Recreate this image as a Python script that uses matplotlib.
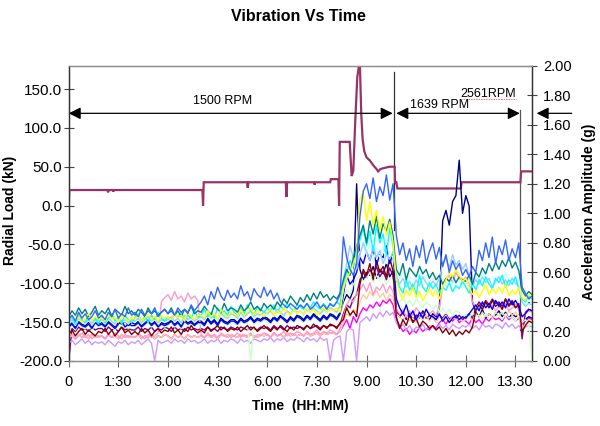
import numpy as np
import matplotlib
matplotlib.use("Agg")
import matplotlib.pyplot as plt

plt.rcParams['font.family'] = ['Liberation Sans', 'DejaVu Sans']

# ---------------- data ----------------
# time axis of the vibration records, hours (one reading every 6 min)
time_h = np.round(np.arange(0, 141) * 0.1, 1)

# acceleration amplitude (g) per sensor channel
teal = [.30,.34,.31,.36,.32,.35,.30,.33,.37,.31,
        .34,.32,.36,.30,.35,.33,.31,.37,.32,.34,
        .31,.35,.33,.30,.36,.32,.34,.31,.33,.35,
        .32,.36,.31,.34,.30,.35,.33,.37,.32,.34,
        .33,.37,.34,.31,.38,.35,.33,.39,.34,.36,
        .35,.33,.38,.34,.36,.40,.35,.37,.34,.39,
        .36,.38,.35,.40,.37,.42,.39,.44,.41,.38,
        .43,.40,.45,.41,.46,.42,.47,.43,.45,.41,
        .44,.42,.46,.55,.62,.58,.70,.78,.85,.92,
        .80,.95,.86,.98,.83,.93,.88,.96,.85,.62,
        .58,.66,.55,.63,.60,.57,.64,.59,.62,.56,
        .60,.55,.58,.52,.56,.54,.58,.53,.57,.55,
        .54,.58,.52,.60,.57,.63,.59,.66,.61,.67,
        .62,.68,.64,.70,.63,.67,.61,.48,.44,.47,
        .45]
cyan = [.27,.30,.25,.31,.28,.26,.32,.27,.29,.25,
        .30,.26,.29,.32,.27,.30,.25,.31,.28,.26,
        .29,.32,.27,.30,.26,.31,.28,.33,.29,.27,
        .30,.28,.32,.29,.33,.27,.31,.29,.34,.30,
        .31,.35,.30,.33,.29,.36,.32,.34,.31,.37,
        .33,.30,.36,.32,.38,.34,.31,.37,.35,.33,
        .36,.34,.38,.33,.37,.35,.39,.36,.34,.38,
        .37,.35,.39,.36,.40,.37,.35,.39,.36,.38,
        .37,.40,.38,.52,.60,.68,.64,.75,.82,.90,
        .78,.88,.74,.92,.80,.86,.72,.90,.78,.55,
        .50,.46,.55,.48,.52,.45,.58,.50,.47,.53,
        .49,.52,.46,.50,.48,.53,.47,.51,.49,.54,
        .50,.46,.53,.48,.55,.51,.57,.52,.49,.56,
        .53,.58,.50,.55,.52,.57,.49,.42,.40,.44,
        .42]
royal = [.28,.31,.27,.33,.29,.32,.28,.30,.34,.29,
         .31,.28,.33,.30,.35,.29,.32,.30,.36,.31,
         .33,.30,.35,.31,.34,.32,.36,.30,.33,.35,
         .32,.34,.31,.36,.33,.35,.32,.38,.34,.37,
         .40,.44,.38,.47,.42,.50,.44,.41,.48,.43,
         .46,.42,.51,.44,.47,.41,.49,.45,.43,.50,
         .44,.48,.42,.46,.40,.38,.36,.39,.37,.35,
         .38,.36,.39,.35,.37,.40,.36,.38,.35,.39,
         .37,.40,.45,.84,.70,.62,.58,.66,.98,1.15,
         1.20,1.10,1.24,1.08,1.18,1.12,1.26,1.09,1.20,.85,
         .72,.80,.68,.76,.64,.78,.70,.82,.66,.74,
         .80,.69,.77,.64,.72,.60,.68,.62,.66,.58,
         .62,.57,.64,.60,.75,.68,.80,.70,.84,.66,
         .78,.72,.82,.68,.76,.70,.80,.50,.46,.42,
         .44]
light_cyan = [.25,.27,.24,.28,.26,.25,.29,.24,.27,.26,
              .27,.25,.28,.26,.24,.28,.26,.27,.25,.29,
              .26,.28,.25,.27,.29,.26,.28,.25,.27,.28,
              .27,.29,.26,.28,.25,.30,.27,.29,.26,.28,
              .29,.27,.31,.28,.30,.27,.32,.29,.28,.31,
              .30,.28,.32,.29,.31,.33,.29,.31,.30,.32,
              .31,.33,.30,.34,.32,.30,.33,.31,.34,.32,
              .33,.31,.34,.32,.35,.33,.31,.34,.32,.35,
              .34,.32,.36,.48,.58,.64,.60,.70,.74,.78,
              .72,.80,.68,.76,.70,.78,.66,.74,.70,.60,
              .56,.60,.54,.58,.52,.57,.61,.55,.58,.53,
              .56,.52,.58,.54,.50,.55,.52,.57,.53,.50,
              .52,.55,.50,.58,.54,.60,.56,.52,.57,.54,
              .58,.55,.60,.53,.57,.52,.55,.40,.38,.41,
              .39]
sky = [.26,.28,.25,.29,.27,.26,.28,.25,.29,.27,
       .28,.26,.29,.27,.25,.28,.27,.29,.26,.28,
       .27,.29,.26,.28,.30,.27,.29,.26,.28,.27,
       .28,.30,.27,.29,.26,.31,.28,.30,.27,.29,
       .30,.28,.32,.29,.31,.28,.33,.30,.29,.32,
       .31,.29,.33,.30,.32,.34,.30,.32,.31,.33,
       .32,.34,.31,.35,.33,.31,.34,.32,.35,.33,
       .34,.32,.35,.33,.36,.34,.32,.35,.33,.36,
       .35,.33,.38,.55,.66,.78,.70,.62,.72,.80,
       .74,.68,.78,.70,.75,.66,.72,.69,.74,.58,
       .52,.56,.50,.54,.49,.55,.51,.57,.53,.50,
       .54,.51,.56,.66,.70,.63,.72,.65,.68,.62,
       .66,.58,.50,.55,.52,.57,.53,.56,.50,.54,
       .57,.52,.55,.51,.56,.53,.50,.40,.37,.39,
       .38]
yellow = [.28,.31,.27,.30,.26,.29,.32,.27,.30,.28,
          .29,.27,.32,.28,.30,.26,.31,.29,.27,.30,
          .28,.31,.27,.29,.32,.28,.30,.27,.31,.29,
          .30,.28,.32,.29,.31,.27,.33,.30,.28,.31,
          .31,.29,.34,.30,.32,.28,.35,.31,.30,.33,
          .32,.30,.35,.31,.33,.36,.31,.34,.32,.30,
          .33,.35,.31,.34,.32,.36,.33,.31,.35,.32,
          .34,.32,.36,.33,.35,.31,.34,.36,.33,.35,
          .34,.36,.33,.50,.56,.60,.66,.72,1.10,1.14,
          .95,1.08,.92,1.02,.88,.98,.85,.94,.80,.55,
          .46,.42,.48,.44,.50,.43,.47,.41,.45,.49,
          .44,.48,.42,.50,.55,.60,.57,.62,.58,.54,
          .56,.50,.45,.48,.43,.47,.52,.45,.49,.46,
          .50,.46,.52,.44,.48,.45,.50,.43,.41,.45,
          .44]
light_green = [.22,.24,.21,.25,.23,.22,.25,.21,.24,.23,
               .24,.22,.25,.23,.21,.24,.23,.25,.22,.24,
               .23,.25,.22,.24,.26,.23,.25,.22,.24,.23,
               .24,.26,.23,.25,.22,.26,.24,.25,.23,.25,
               .25,.23,.27,.24,.26,.23,.27,.25,.24,.26,
               .26,.24,.27,.25,.26,0.0,.25,.27,.26,.28,
               .27,.25,.28,.26,.29,.27,.25,.28,.26,.29,
               .28,.26,.29,.27,.30,.28,.26,.29,.27,.30,
               .29,.27,.31,.42,.48,.45,.52,.55,.58,.54,
               .56,.60,.53,.58,.55,.57,.52,.56,.54,.42,
               .40,.43,.38,.41,.37,.42,.39,.36,.40,.38,
               .35,.38,.33,.36,.32,.35,.31,.34,.33,.30,
               .32,.29,.33,.30,.31,.28,.32,.29,.31,.30,
               .31,.28,.32,.29,.30,.27,.31,.26,.28,.25,
               0.0]
blue = [.23,.25,.22,.26,.24,.23,.25,.22,.26,.24,
        .25,.23,.26,.24,.22,.25,.27,.23,.25,.24,
        .24,.26,.23,.25,.27,.24,.26,.23,.25,.24,
        .25,.27,.24,.26,.23,.27,.25,.26,.24,.26,
        .26,.24,.28,.25,.27,.24,.28,.26,.25,.27,
        .27,.25,.28,.26,.27,.29,.26,.28,.27,.29,
        .28,.26,.29,.27,.30,.28,.26,.29,.27,.30,
        .29,.27,.30,.28,.31,.29,.27,.30,.28,.31,
        .30,.28,.32,.45,.58,.52,.55,.60,.70,.66,
        .74,.68,.76,.65,.72,.70,.78,.66,.73,.42,
        .36,.32,.38,.30,.34,.28,.33,.29,.35,.31,
        .30,.28,.32,.27,.30,.26,.29,.31,.28,.30,
        .29,.32,.35,.38,.34,.40,.36,.39,.35,.41,
        .37,.40,.36,.42,.38,.41,.37,.30,.32,.35,
        .34]
navy = [.24,.26,.23,.27,.25,.24,.26,.23,.27,.25,
        .26,.24,.27,.25,.23,.26,.25,.27,.24,.26,
        .25,.27,.24,.26,.28,.25,.27,.24,.26,.25,
        .26,.28,.25,.27,.24,.28,.26,.27,.25,.27,
        .27,.25,.29,.26,.28,.25,.29,.27,.26,.28,
        .28,.26,.29,.27,.28,.30,.27,.29,.28,.30,
        .29,.27,.30,.28,.31,.29,.27,.30,.28,.31,
        .30,.28,.31,.29,.32,.30,.28,.31,.29,.32,
        .31,.29,.33,.40,.45,.42,.48,1.20,.62,.55,
        .60,.58,.64,.56,.62,.59,.66,.57,.61,.35,
        .30,.33,.28,.32,.27,.31,.29,.34,.30,.28,
        .32,.30,.36,.95,1.02,.92,1.08,1.12,1.36,1.00,
        1.12,1.05,.40,.33,.30,.35,.29,.32,.30,.31,
        .34,.30,.33,.29,.32,.30,.31,.26,.28,.30,
        .29]
pink = [.16,.18,.15,.17,.19,.16,.18,.15,.17,.16,
        .17,.15,.18,.16,.19,.17,.15,.18,.16,.17,
        .16,.18,.17,.15,.18,.16,.17,.19,.40,.43,
        .45,.41,.47,.42,.44,.40,.46,.42,.44,.41,
        .18,.16,.19,.17,.18,.16,.19,.17,.18,.16,
        .17,.19,.16,.18,.17,.19,.16,.18,.17,.19,
        .18,.16,.19,.17,.18,.20,.17,.19,.18,.20,
        .19,.17,.20,.18,.19,.21,.18,.20,.19,.21,
        .20,.18,.22,.30,.38,.42,.40,.46,.48,.52,
        .47,.53,.45,.50,.48,.52,.46,.51,.47,.35,
        .32,.35,.30,.34,.31,.36,.33,.30,.35,.32,
        .34,.31,.36,.50,.55,.58,.53,.60,.56,.54,
        .57,.52,.40,.36,.38,.35,.39,.36,.38,.34,
        .37,.35,.39,.34,.36,.38,.35,.30,.32,.34,
        .33]
magenta = [.16,.17,.15,.18,.16,.17,.15,.18,.16,.17,
           .17,.15,.18,.16,.17,.15,.18,.16,.17,.16,
           .16,.18,.15,.17,.16,.18,.15,.17,.16,.18,
           .17,.15,.18,.16,.17,.15,.18,.16,.17,.16,
           .17,.16,.18,.16,.17,.15,.18,.17,.16,.18,
           .17,.16,.18,.17,.16,.18,.17,.16,.18,.17,
           .18,.16,.19,.17,.18,.16,.19,.17,.18,.17,
           .18,.17,.19,.17,.18,.19,.17,.19,.18,.19,
           .19,.18,.20,.24,.28,.22,.30,.26,.32,.36,
           .34,.38,.36,.40,.37,.41,.39,.42,.38,.28,
           .24,.20,.22,.18,.21,.19,.23,.20,.22,.21,
           .24,.22,.26,.28,.25,.29,.27,.30,.26,.28,
           .27,.25,.29,.26,.28,.25,.29,.27,.30,.28,
           .29,.27,.31,.28,.30,.27,.29,.25,.27,.29,
           .28]
lavender = [.12,.14,.11,.13,.15,.12,.14,.11,.13,.12,
            .13,.11,.14,.12,.10,.13,.12,.14,.11,.13,
            .12,.14,.11,.13,.15,.12,0.0,.14,.12,.13,
            .14,.12,.15,.13,.14,.12,.15,.13,.14,.12,
            .13,.15,.12,.14,.13,.15,.12,.14,.13,.15,
            .14,.12,.15,.13,.14,.12,.15,.14,.13,.15,
            .14,.16,.13,.15,.14,.16,.13,.15,.14,.16,
            .15,.13,.16,.14,.15,.13,.16,.14,.15,0.0,
            .14,.16,.17,0.0,.20,.22,.21,0.0,.26,.28,
            .30,.27,.32,.29,.33,.30,.34,.31,.33,.26,
            .22,.25,.21,.24,.20,.23,.22,.25,.21,.24,
            .23,.21,.25,.22,.24,.21,.25,.23,.22,.24,
            .23,.25,.22,.24,.21,.25,.23,.24,.22,.25,
            .24,.22,.26,.23,.25,.22,.24,.21,.23,.24,
            .23]
maroon = [.18,.21,.17,.20,.22,.18,.21,.19,.17,.20,
          .19,.22,.18,.21,.17,.20,.23,.19,.21,.18,
          .20,.18,.22,.19,.21,.17,.20,.22,.19,.21,
          .20,.23,.19,.21,.18,.22,.20,.24,.21,.19,
          .21,.19,.23,.20,.22,.24,.21,.23,.20,.22,
          .21,.23,.20,.22,.24,.21,.23,.20,.22,.24,
          .22,.20,.23,.21,.24,.22,.20,.23,.21,.24,
          .23,.21,.24,.22,.25,.23,.21,.24,.22,.25,
          .24,.22,.26,.28,.36,.31,.34,.30,.52,.62,
          .58,.66,.55,.68,.60,.64,.57,.70,.61,.30,
          .22,.28,.24,.31,.26,.29,.23,.27,.25,.22,
          .24,.21,.23,.19,.22,.18,.21,.17,.20,.18,
          .21,.19,.23,.34,.38,.35,.40,.36,.41,.37,
          .39,.35,.42,.37,.40,.36,.38,.20,.24,.27,
          .26]
peach = [.16,.17,.15,.18,.16,.17,.15,.18,.16,.17,
         .17,.15,.18,.16,.17,.15,.18,.16,.17,.16,
         .16,.18,.15,.17,.16,.18,.15,.17,.16,.18,
         .17,.15,.18,.16,.17,.15,.18,.16,.17,.16,
         .17,.16,.18,.16,.17,.15,.18,.17,.16,.18,
         .17,.16,.18,.17,.16,.18,.17,.16,.18,.17,
         .18,.16,.19,.17,.18,.16,.19,.17,.18,.17,
         .18,.17,.19,.17,.18,.19,.17,.19,.18,.19,
         .19,.18,.20,.26,.32,.30,.35,.33,.40,.45,
         .42,.47,.44,.48,.43,.46,.41,.45,.43,.32,
         .30,.28,.31,.27,.29,.26,.30,.28,.31,.27,
         .29,.26,.30,.28,.31,.27,.30,.28,.29,.27,
         .28,.30,.27,.32,.29,.33,.30,.32,.29,.33,
         .31,.33,.30,.34,.31,.33,.30,.22,.25,.28,
         .27]
purple = [0.0,.22,.20,.23,.21,.22,.20,.23,.21,.22,
          .22,.20,.23,.21,.22,.20,.23,.21,.22,.21,
          .21,.23,.20,.22,.21,.23,.20,.22,.21,.23,
          .22,.20,.23,.21,.22,.20,.23,.21,.22,.21,
          .22,.21,.23,.21,.22,.20,.23,.22,.21,.23,
          .22,.21,.23,.22,.21,.23,.22,.21,.23,.22,
          .23,.21,.24,.22,.23,.21,.24,.22,.23,.22,
          .23,.22,.24,.22,.23,.24,.22,.24,.23,.24,
          .24,.23,.25,.32,.38,.36,.42,.45,.55,.60,
          .56,.62,.58,.64,.57,.61,.55,.63,.58,.34,
          .30,.33,.29,.32,.28,.31,.30,.33,.29,.31,
          .30,.28,.31,.29,.32,.28,.30,.29,.31,.28,
          .30,.32,.29,.36,.40,.37,.41,.38,.42,.39,
          .40,.37,.42,.38,.41,.37,.39,.15,.33,.35,
          .34]

# radial load (kN) vs time (h)
load_t = [0.0, 0.02, 1.17, 1.19, 1.21, 1.33, 1.35, 1.37, 4.04, 4.06, 4.08,
          5.39, 5.41, 5.43, 6.56, 6.58, 6.60, 7.41, 7.43, 7.45, 7.90, 7.92,
          8.15, 8.17, 8.19, 8.49, 8.55, 8.60, 8.66, 8.72, 8.77, 8.80, 8.84,
          8.88, 8.93, 9.00, 9.10, 9.20, 9.30, 9.35, 9.42, 9.50, 9.70, 9.85,
          9.86, 9.90, 9.93, 11.85, 11.87, 13.65, 13.67, 14.0]
load_kN = [0, 20, 20, 17, 20, 20, 18, 20, 20, 0, 30,
           30, 23, 30, 30, 11, 30, 30, 27, 30, 30, 34,
           34, 0, 82, 82, 38, 45, 110, 165, 180, 180, 118,
           86, 70, 62, 58, 52, 47, 44, 47, 48, 50, 50,
           30, 30, 22, 22, 30, 30, 44, 44]

x_ticks = [0, 1.5, 3, 4.5, 6, 7.5, 9, 10.5, 12, 13.5]
x_tick_labels = ['0', '1:30', '3.00', '4.30', '6.00', '7.30', '9.00', '10.30', '12.00', '13.30']
left_ticks = [-200, -150, -100, -50, 0, 50, 100, 150]
right_ticks = [0, 0.2, 0.4, 0.6, 0.8, 1.0, 1.2, 1.4, 1.6, 1.8, 2.0]

# ---------------- figure ----------------
fig = plt.figure(figsize=(6, 4.26), dpi=100)
ax = fig.add_axes([0.1145, 0.1526, 0.7722, 0.6932])
ax2 = ax.twinx()

ax.plot(load_t, load_kN, color='#993366', lw=1.6, zorder=3, solid_joinstyle='miter')

# annotations (on the lower axes so data draws over them)
ax.plot([9.83, 9.83], [172, -31], color='#333333', lw=0.9, zorder=1)
ax.plot([13.64, 13.64], [123, -160], color='#555555', lw=0.9, zorder=1)
arw = dict(arrowstyle='<|-|>', color='black', lw=0.9, mutation_scale=18,
           shrinkA=0, shrinkB=0)
ax.annotate('', xy=(9.79, 118.7), xytext=(0.0, 118.7), arrowprops=arw, zorder=4)
ax.annotate('', xy=(13.63, 118.7), xytext=(9.90, 118.7), arrowprops=arw, zorder=4)
ax.annotate('', xy=(14.14, 118.7), xytext=(15.2, 118.7), annotation_clip=False,
            arrowprops=dict(arrowstyle='-|>', color='black', lw=0.9, mutation_scale=18,
                            shrinkA=0, shrinkB=0))
ax.text(4.66, 135, '1500 RPM', ha='center', va='center', fontsize=9)
ax.text(11.2, 129, '1639 RPM', ha='center', va='center', fontsize=9)
ax.text(12.67, 143.8, '2561RPM', ha='center', va='center', fontsize=9)
ax.plot([11.87, 13.52], [136.8, 136.8], color='#ff3333', lw=0.6, ls=(0, (1, 1)))

# draw order: hidden/low channels first, dominant ones last
series = [
    (magenta, '#FF00FF'), (navy, '#000080'), (purple, '#800080'), (lavender, '#CC99FF'),
    (peach, '#FFCC99'), (pink, '#FF99CC'), (light_green, '#CCFFCC'), (maroon, '#800000'),
    (blue, '#0000FF'), (light_cyan, '#CCFFFF'), (sky, '#99CCFF'), (cyan, '#00FFFF'),
    (teal, '#008080'), (yellow, '#FFFF00'), (royal, '#3366FF'),
]
for vals, col in series:
    ax2.plot(time_h, vals, color=col, lw=1.0)

# axes settings
ax.set_xlim(0, 14)
ax.set_ylim(-200, 180)
ax2.set_ylim(0, 2.0)
ax.set_xticks(x_ticks)
ax.set_xticklabels(x_tick_labels)
ax.set_yticks(left_ticks)
ax.set_yticklabels([f'{v:.1f}' for v in left_ticks])
ax2.set_yticks(right_ticks)
ax2.set_yticklabels([f'{v:.2f}' for v in right_ticks])

ax.tick_params(axis='x', direction='inout', length=8, width=0.8, color='#666666',
               labelsize=10.5, pad=6)
ax.tick_params(axis='y', direction='inout', length=7.5, width=0.8, color='#444444',
               labelsize=11, pad=1)
ax2.tick_params(axis='y', direction='inout', length=7.5, width=0.8, color='#444444',
                labelsize=10.5, pad=4)

for a in (ax, ax2):
    a.spines['top'].set_color('#8c8c8c')
    a.spines['bottom'].set_color('#8c8c8c')
    a.spines['left'].set_color('#333333')
    a.spines['right'].set_color('#333333')
    for s in a.spines.values():
        s.set_linewidth(0.9)

fig.text(0.498, 0.962, 'Vibration Vs Time', ha='center', va='center',
         fontsize=11.5, fontweight='bold')
fig.text(0.5, 0.047, 'Time  (HH:MM)', ha='center', va='center',
         fontsize=10, fontweight='bold')
fig.text(0.016, 0.507, 'Radial Load (kN)', ha='center', va='center',
         rotation=90, fontsize=10, fontweight='bold')
fig.text(0.982, 0.502, 'Acceleration Amplitude (g)', ha='center', va='center',
         rotation=90, fontsize=10, fontweight='bold')

fig.savefig('out.png', dpi=100)
